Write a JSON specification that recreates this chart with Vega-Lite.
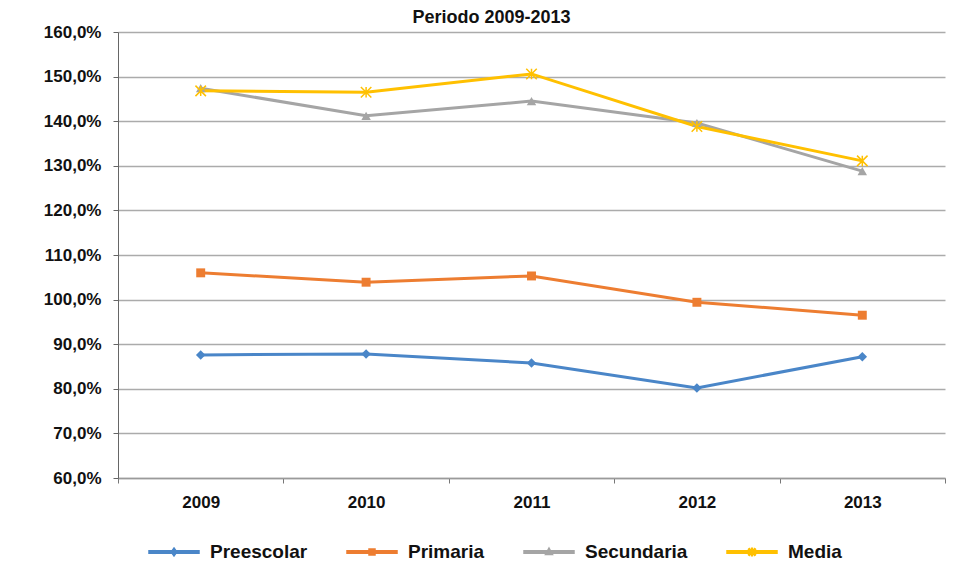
{
  "$schema": "https://vega.github.io/schema/vega-lite/v6.json",
  "autosize": {"type": "none"},
  "width": 827,
  "height": 446,
  "padding": {"left": 118, "top": 32, "right": 12, "bottom": 107},
  "background": "#ffffff",
  "title": {
    "text": "Periodo 2009-2013",
    "font": "Liberation Sans",
    "fontSize": 18,
    "fontWeight": "bold",
    "color": "#111111",
    "anchor": "middle",
    "dx": -40,
    "dy": 10,
    "offset": 6
  },
  "config": {
    "view": {"stroke": null},
    "font": "Liberation Sans",
    "legend": {
      "title": null,
      "orient": "none",
      "direction": "horizontal",
      "legendX": 30,
      "legendY": 494,
      "padding": 0,
      "columnPadding": 36,
      "labelOffset": 10,
      "symbolSize": 2500,
      "symbolOpacity": 1,
      "labelFont": "Liberation Sans",
      "labelFontSize": 19,
      "labelFontWeight": "bold",
      "labelColor": "#111111"
    }
  },
  "data": {
    "values": [
      {"Año": "2009", "Nivel": "Preescolar", "Tasa": 87.6},
      {"Año": "2010", "Nivel": "Preescolar", "Tasa": 87.8},
      {"Año": "2011", "Nivel": "Preescolar", "Tasa": 85.8},
      {"Año": "2012", "Nivel": "Preescolar", "Tasa": 80.2},
      {"Año": "2013", "Nivel": "Preescolar", "Tasa": 87.2},
      {"Año": "2009", "Nivel": "Primaria", "Tasa": 106.0},
      {"Año": "2010", "Nivel": "Primaria", "Tasa": 103.9},
      {"Año": "2011", "Nivel": "Primaria", "Tasa": 105.3},
      {"Año": "2012", "Nivel": "Primaria", "Tasa": 99.4},
      {"Año": "2013", "Nivel": "Primaria", "Tasa": 96.5},
      {"Año": "2009", "Nivel": "Secundaria", "Tasa": 147.4},
      {"Año": "2010", "Nivel": "Secundaria", "Tasa": 141.2},
      {"Año": "2011", "Nivel": "Secundaria", "Tasa": 144.5},
      {"Año": "2012", "Nivel": "Secundaria", "Tasa": 139.6},
      {"Año": "2013", "Nivel": "Secundaria", "Tasa": 128.8},
      {"Año": "2009", "Nivel": "Media", "Tasa": 146.8},
      {"Año": "2010", "Nivel": "Media", "Tasa": 146.5},
      {"Año": "2011", "Nivel": "Media", "Tasa": 150.6},
      {"Año": "2012", "Nivel": "Media", "Tasa": 138.8},
      {"Año": "2013", "Nivel": "Media", "Tasa": 131.1}
    ]
  },
  "encoding": {
    "x": {
      "field": "Año",
      "type": "ordinal",
      "scale": {"type": "band", "paddingInner": 0, "paddingOuter": 0},
      "axis": {
        "title": null,
        "labelAngle": 0,
        "labelFont": "Liberation Sans",
        "labelFontSize": 17,
        "labelFontWeight": "bold",
        "labelColor": "#111111",
        "labelPadding": 11,
        "tickBand": "extent",
        "tickSize": 5,
        "tickColor": "#777777",
        "domainColor": "#9a9a9a",
        "domainWidth": 1.5,
        "grid": false
      }
    },
    "y": {
      "field": "Tasa",
      "type": "quantitative",
      "scale": {"domain": [60, 160], "nice": false, "zero": false},
      "axis": {
        "title": null,
        "values": [60, 70, 80, 90, 100, 110, 120, 130, 140, 150, 160],
        "labelExpr": "replace(format(datum.value, '.1f'), '.', ',') + '%'",
        "labelFont": "Liberation Sans",
        "labelFontSize": 17,
        "labelFontWeight": "bold",
        "labelColor": "#111111",
        "labelPadding": 12,
        "tickSize": 5,
        "tickColor": "#666666",
        "domainColor": "#666666",
        "domainWidth": 1,
        "grid": true,
        "gridColor": "#ababab",
        "gridWidth": 1.5
      }
    },
    "color": {
      "field": "Nivel",
      "type": "nominal",
      "scale": {
        "domain": ["Preescolar", "Primaria", "Secundaria", "Media"],
        "range": ["#4a86c8", "#ed7d31", "#a5a5a5", "#ffc000"]
      }
    }
  },
  "layer": [
    {
      "mark": {"type": "line", "strokeWidth": 3}
    },
    {
      "transform": [{"filter": "datum.Nivel === 'Preescolar'"}],
      "mark": {"type": "point", "shape": "diamond", "filled": true, "opacity": 1, "size": 90}
    },
    {
      "transform": [{"filter": "datum.Nivel === 'Primaria'"}],
      "mark": {"type": "point", "shape": "square", "filled": true, "opacity": 1, "size": 80}
    },
    {
      "transform": [{"filter": "datum.Nivel === 'Secundaria'"}],
      "mark": {"type": "point", "shape": "triangle-up", "filled": true, "opacity": 1, "size": 90}
    },
    {
      "transform": [{"filter": "datum.Nivel === 'Media'"}],
      "mark": {"type": "point", "shape": "M-1,-1L1,1M-1,1L1,-1M0,-1L0,1", "filled": false, "opacity": 1, "strokeWidth": 1.5, "size": 110}
    },
    {
      "mark": {"type": "point", "filled": true, "opacity": 0},
      "encoding": {
        "shape": {
          "field": "Nivel",
          "type": "nominal",
          "scale": {
            "domain": ["Preescolar", "Primaria", "Secundaria", "Media"],
            "range": [
              "M-1,-0.05L1,-0.05L1,0.05L-1,0.05ZM0,-0.16L0.11,0L0,0.16L-0.11,0Z",
              "M-1,-0.05L1,-0.05L1,0.05L-1,0.05ZM-0.12,-0.12L0.12,-0.12L0.12,0.12L-0.12,0.12Z",
              "M-1,-0.05L1,-0.05L1,0.05L-1,0.05ZM0,-0.16L0.14,0.1L-0.14,0.1Z",
              "M-1,-0.05L1,-0.05L1,0.05L-1,0.05ZM-0.14,-0.11L-0.11,-0.14L0.14,0.11L0.11,0.14ZM0.11,-0.14L0.14,-0.11L-0.11,0.14L-0.14,0.11ZM-0.015,-0.15L0.015,-0.15L0.015,0.15L-0.015,0.15Z"
            ]
          }
        }
      }
    }
  ]
}
